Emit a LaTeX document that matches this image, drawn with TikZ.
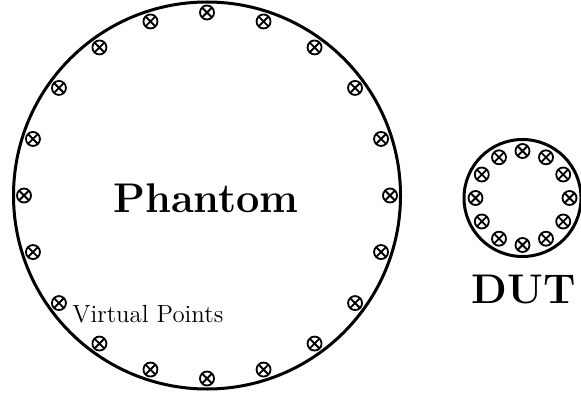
\documentclass[tikz,border=0pt]{standalone}

\tikzset{
	vpoint/.style={circle, draw, line width=0.9pt, minimum size=7pt, inner sep=0pt,
			path picture={\draw[line width=0.9pt]
					(path picture bounding box.north west) -- (path picture bounding box.south east)
					(path picture bounding box.north east) -- (path picture bounding box.south west);}},
	rim/.style={line width=1.5pt}
}

\begin{document}
\begin{tikzpicture}[x=0.5pt, y=0.5pt]
		\useasboundingbox (0,0) rectangle (581,396);

		% Phantom circle
		\coordinate (phc) at (207,200.5);
		\draw[rim] (phc) circle (193.5);

		% Virtual points on the phantom (20 points)
		\foreach \i in {0,...,19} {
				\node[vpoint] (p\i) at ([shift={(90 - \i * 18:183)}]phc) {};
			}

		% DUT circle
		\coordinate (dutc) at (522.5,198);
		\draw[rim] (dutc) circle (58.5);

		% Virtual points on the DUT (12 points)
		\foreach \i in {0,...,11} {
				\node[vpoint] (d\i) at ([shift={(90 - \i * 30:47)}]dutc) {};
			}

		% Labels
		\node[font=\huge\bfseries, anchor=base, inner sep=0pt] (phlabel) at (206,184) {Phantom};
		\node[font=\huge\bfseries, anchor=base, inner sep=0pt] (dutlabel) at (523.5,93) {DUT};
		\node[font=\fontsize{12.4}{15}\selectfont, anchor=base west, inner sep=0pt] (vplabel) at (72,74) {Virtual Points};
	\end{tikzpicture}
\end{document}
